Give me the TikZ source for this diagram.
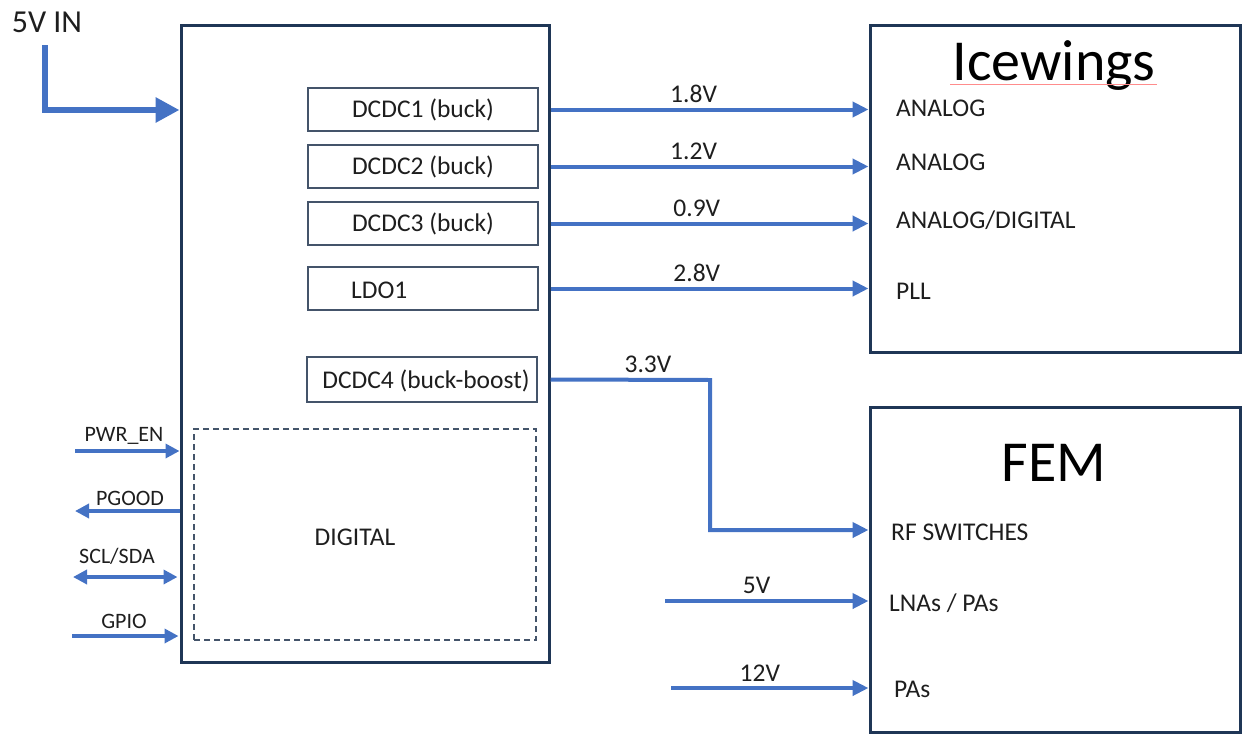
\documentclass[tikz,border=0pt]{standalone}
\usepackage{fontspec}
\setmainfont{Carlito}
\usetikzlibrary{arrows.meta}
\definecolor{navy}{HTML}{1F3656}
\definecolor{arrowblue}{HTML}{4472C4}
\definecolor{txt}{HTML}{1E1E1E}
\definecolor{subedge}{HTML}{44546A}
\begin{document}
\begin{tikzpicture}[x=1pt,y=-1pt,
  bigbox/.style={draw=navy, line width=3pt, inner sep=0pt},
  subbox/.style={draw=subedge, line width=1.4pt, minimum width=230pt, minimum height=43pt, inner sep=0pt, text=txt, font=\fontsize{25.5}{29}\selectfont},
  conn/.style={draw=arrowblue, line width=4pt, -{Triangle[length=16pt,width=15pt]}},
  sigarrow/.style={draw=arrowblue, line width=4pt},
  tipR/.style={-{Triangle[length=14pt,width=14pt]}},
  tipL/.style={{Triangle[length=14pt,width=14pt]}-},
  tipLR/.style={{Triangle[length=14pt,width=14pt]}-{Triangle[length=14pt,width=14pt]}},
  lbl/.style={text=txt, font=\fontsize{25.5}{29}\selectfont, inner sep=0pt},
  sig/.style={text=txt, font=\fontsize{22}{26}\selectfont, inner sep=0pt},
  big/.style={text=black, font=\fontsize{58}{64}\selectfont, inner sep=0pt}]
\useasboundingbox (0,0) rectangle (1243,734);

% main block
\node[bigbox, minimum width=368pt, minimum height=637pt] (main) at (365,343.5) {};
\node[bigbox, minimum width=370pt, minimum height=327pt] (ice) at (1055,188.5) {};
\node[bigbox, minimum width=370pt, minimum height=325pt] (fem) at (1055,569.5) {};

% sub boxes
\node[subbox] (d1) at (423,109.5) {DCDC1 (buck)};
\node[subbox] (d2) at (423,166.5) {DCDC2 (buck)};
\node[subbox] (d3) at (423,223.5) {DCDC3 (buck)};
\node[subbox] (ldo) at (423,288.5) {};
\node[lbl, anchor=west] (ldolbl) at (351,290) {LDO1};
\node[subbox, minimum height=45pt] (d4) at (422,379.5) {};
\node[lbl] (d4lbl) at (426,381) {DCDC4 (buck-boost)};

% digital block
\node[draw=subedge, line width=1.5pt, dash pattern=on 6pt off 4pt, minimum width=342pt, minimum height=211pt, inner sep=0pt] (dig) at (365,534.5) {};
\node[lbl] (diglbl) at (355,537) {DIGITAL};

% titles
\node[big] (icet) at (1054,66) {Icewings};
\draw[red!45, line width=0.8pt] (950,84) -- (1157,84);
\node[big] (femt) at (1054,463) {FEM};

% Icewings inputs
\node[lbl, anchor=west] (a1) at (896,108) {ANALOG};
\node[lbl, anchor=west] (a2) at (896,162) {ANALOG};
\node[lbl, anchor=west] (a3) at (896,220) {ANALOG/DIGITAL};
\node[lbl, anchor=west] (a4) at (896,291) {PLL};

% FEM inputs
\node[lbl, anchor=west] (f1) at (891,532) {RF SWITCHES};
\node[lbl, anchor=west] (f2) at (889,603) {LNAs / PAs};
\node[lbl, anchor=west] (f3) at (894,689) {PAs};

% supply connectors
\draw[conn] (main.east |- d1) -- node[lbl, pos=0.45, above=5pt] (v1) {1.8V} (ice.west |- d1);
\draw[conn] (main.east |- d2) -- node[lbl, pos=0.45, above=5pt] (v2) {1.2V} (ice.west |- d2);
\draw[conn] (main.east |- d3) -- node[lbl, pos=0.46, above=5pt] (v3) {0.9V} (ice.west |- d3);
\draw[conn] (main.east |- ldo) -- node[lbl, pos=0.46, above=5pt] (v4) {2.8V} (ice.west |- ldo);

\coordinate (bend1) at (710,380);
\coordinate (bend2) at (710,530);
\draw[conn] (main.east |- d4) -- (bend1) -- (bend2) -- (fem.west |- bend2);
\node[lbl] (v5) at (648,364) {3.3V};

\coordinate (in5) at (665,601);
\coordinate (in12) at (671,688);
\draw[conn] (in5) -- node[lbl, pos=0.45, above=5pt] (v6) {5V} (fem.west |- in5);
\draw[conn] (in12) -- node[lbl, pos=0.45, above=5pt] (v7) {12V} (fem.west |- in12);

% 5V IN
\node[text=txt, font=\fontsize{32}{36}\selectfont, inner sep=0pt] (vin) at (47,22) {5V IN};
\coordinate (vin0) at (45,45);
\coordinate (vin1) at (45,110);
\draw[draw=arrowblue, line width=6.5pt, -{Triangle[length=24pt,width=24pt]}] (vin0) -- (vin1) -- (main.west |- vin1);

% control signals
\coordinate (pe) at (75,451);
\coordinate (pg) at (75,511);
\coordinate (sc) at (73,577);
\coordinate (gp) at (72,636);
\draw[sigarrow, tipR] (pe) -- (main.west |- pe);
\draw[sigarrow, tipL] (pg) -- (main.west |- pg);
\draw[sigarrow, tipLR] (sc) -- ([xshift=-2pt]main.west |- sc);
\draw[sigarrow, tipR] (gp) -- ([xshift=-1pt]main.west |- gp);
\node[sig] (pel) at (124,436) {PWR\_EN};
\node[sig] (pgl) at (130,498) {PGOOD};
\node[sig] (scl) at (117,556) {SCL/SDA};
\node[sig] (gpl) at (124,621) {GPIO};
\end{tikzpicture}
\end{document}
